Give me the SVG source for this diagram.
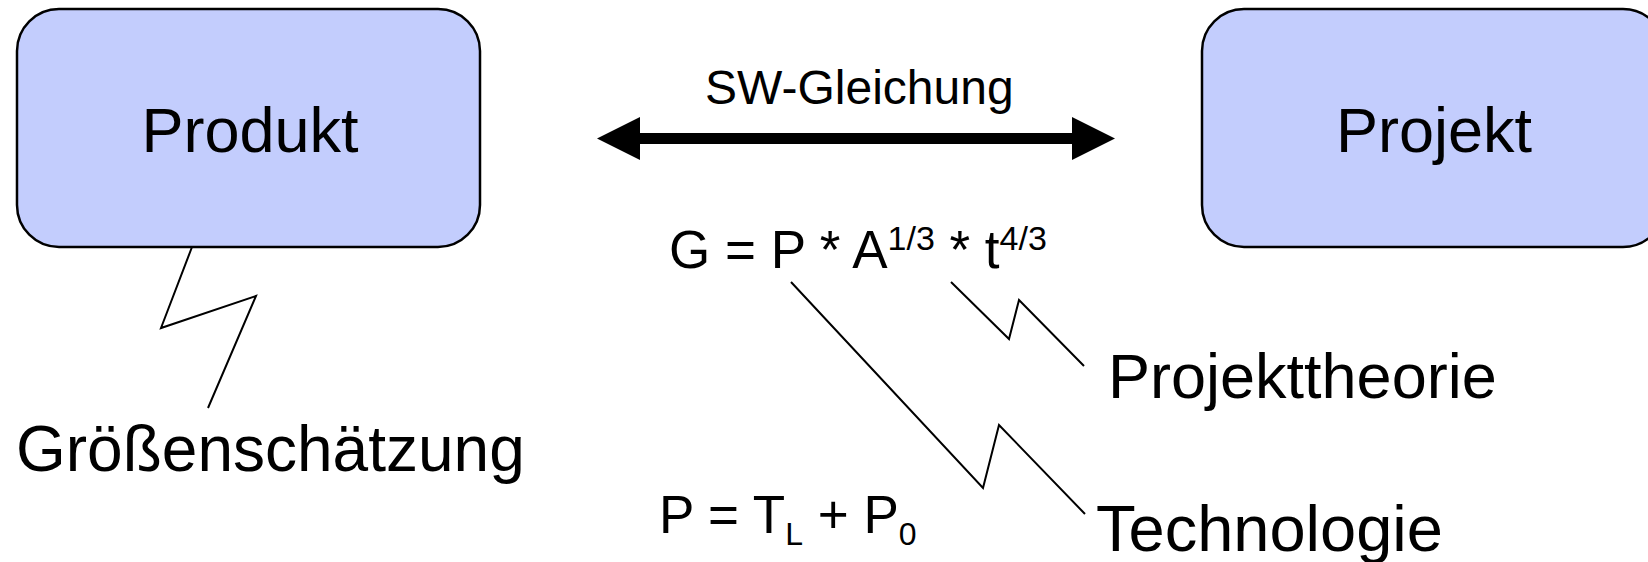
<svg xmlns="http://www.w3.org/2000/svg" width="1648" height="562" viewBox="0 0 1648 562">
<style>
.box{fill:#c3cdfd;stroke:#000;stroke-width:2.5}
.t{font-family:"Liberation Sans",Arial,sans-serif;fill:#000}
.zz{fill:none;stroke:#000;stroke-width:2;stroke-linejoin:miter}
</style>
<defs>
<marker id="ah" viewBox="0 -22 43 44" markerWidth="43" markerHeight="44" refX="0" refY="0" markerUnits="userSpaceOnUse" orient="auto-start-reverse">
<path d="M0,-21.5 L43,0 L0,21.5 z" fill="#000"/>
</marker>
</defs>
<rect width="1648" height="562" fill="#fff"/>
<g id="produkt">
<rect class="box" x="17" y="9" width="463" height="238" rx="42" ry="42"/>
<text class="t" x="250" y="152" font-size="63" text-anchor="middle">Produkt</text>
</g>
<g id="projekt">
<rect class="box" x="1202" y="9" width="463" height="238" rx="42" ry="42"/>
<text class="t" x="1434" y="152" font-size="63" text-anchor="middle">Projekt</text>
</g>
<g id="sw-gleichung">
<text class="t" x="705" y="104" font-size="48">SW-Gleichung</text>
</g>
<g id="formel-g">
<text class="t" x="669" y="268" font-size="53">G = P * A<tspan font-size="34" dy="-18">1/3</tspan><tspan dy="18"> * t</tspan><tspan font-size="34" dy="-18">4/3</tspan></text>
</g>
<g id="formel-p">
<text class="t" x="659" y="533" font-size="53">P = T<tspan font-size="32" dy="12">L</tspan><tspan dy="-12"> + P</tspan><tspan font-size="32" dy="12">0</tspan></text>
</g>
<g id="groessenschaetzung">
<text class="t" x="16" y="471" font-size="64">Größenschätzung</text>
</g>
<g id="projekttheorie">
<text class="t" x="1108" y="398" font-size="63">Projekttheorie</text>
</g>
<g id="technologie">
<text class="t" x="1096" y="551" font-size="65">Technologie</text>
</g>
<g id="connectors">
<path d="M640,138.5 L1072,138.5" stroke="#000" stroke-width="11" fill="none" marker-start="url(#ah)" marker-end="url(#ah)"/>
<polyline class="zz" points="192,247 161,328 256,296 208,408"/>
<polyline class="zz" points="791,282 983,488 999,425 1085,514"/>
<polyline class="zz" points="951,282 1009,339 1019,300 1084,366"/>
</g>
</svg>
